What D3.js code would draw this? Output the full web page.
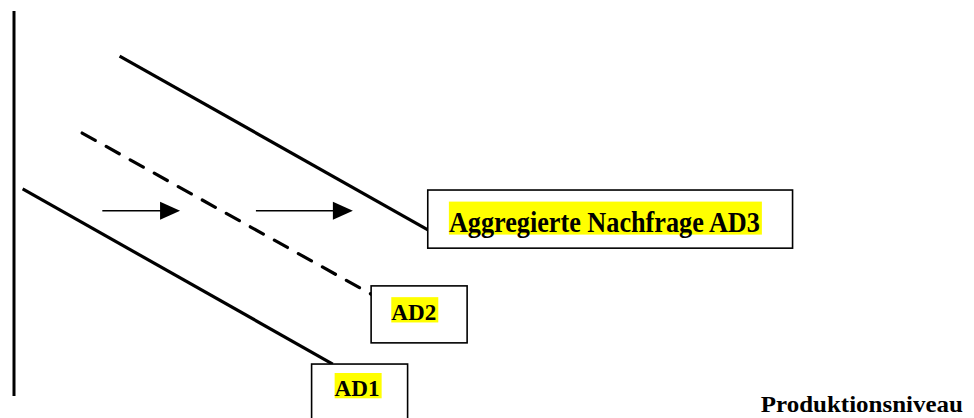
<!DOCTYPE html>
<html>
<head>
<meta charset="utf-8">
<script src="https://cdn.jsdelivr.net/npm/d3@7"></script>
<style>
  html, body { margin: 0; padding: 0; background: #fff; }
  svg { display: block; }
  text { font-family: "Liberation Serif", "Times New Roman", serif; font-weight: bold; }
</style>
</head>
<body>
<svg id="chart" width="974" height="418"></svg>
<script>
// Demand curves (data units: output 0..100, price level 0..100)
const curveNames = ["AD3", "AD2", "AD1"];
const curveX0 = [11.0, 7.1, 0.9];
const curveY0 = [88.3, 68.3, 53.8];
const curveX1 = [43.3, 39.4, 33.2];
const curveY1 = [42.9, 23.4, 8.3];
const curveDashed = [false, true, false];

// Shift arrows
const arrowY = [48.1, 48.1];
const arrowX0 = [9.2, 25.2];
const arrowX1 = [17.3, 35.3];

// Label boxes
const labelTexts = ["Aggregierte Nachfrage AD3", "AD2", "AD1"];
const boxX0 = [43.1, 37.2, 31.0];
const boxX1 = [81.1, 47.2, 41.0];
const boxYTop = [53.5, 28.6, 8.3];
const boxYBottom = [38.4, 13.8, -7.5];
const textX = [45.3, 39.3, 33.4];
const textY = [42.7, 19.7, 0.0];
const textW = [311, 45, 45];
const textSize = [30, 23, 23];

const axisLabel = "Produktionsniveau";
const axisLabelX = 77.8, axisLabelY = -4.1;

const svg = d3.select("#chart");
const x = d3.scaleLinear().domain([0, 100]).range([14, 974]);
const y = d3.scaleLinear().domain([0, 100]).range([396, 11]);

// vertical axis
svg.append("line")
  .attr("x1", x(0)).attr("x2", x(0))
  .attr("y1", y(100)).attr("y2", y(0))
  .attr("stroke", "#000").attr("stroke-width", 3);

// curves
curveNames.forEach((n, i) => {
  svg.append("line")
    .attr("x1", x(curveX0[i])).attr("y1", y(curveY0[i]))
    .attr("x2", x(curveX1[i])).attr("y2", y(curveY1[i]))
    .attr("stroke", "#000").attr("stroke-width", 3.2)
    .attr("stroke-linecap", curveDashed[i] ? "round" : "butt")
    .attr("stroke-dasharray", curveDashed[i] ? "15,12.5" : null);
});

// arrows
arrowY.forEach((v, i) => {
  const xs = x(arrowX0[i]), xe = x(arrowX1[i]), yy = y(v);
  const headLen = 20, headHalf = 9;
  svg.append("line")
    .attr("x1", xs).attr("x2", xe - headLen + 1)
    .attr("y1", yy).attr("y2", yy)
    .attr("stroke", "#000").attr("stroke-width", 1.6);
  svg.append("path")
    .attr("d", `M${xe},${yy}L${xe - headLen},${yy - headHalf}L${xe - headLen},${yy + headHalf}Z`)
    .attr("fill", "#000");
});

// label boxes
labelTexts.forEach((t, i) => {
  svg.append("rect")
    .attr("x", x(boxX0[i])).attr("y", y(boxYTop[i]))
    .attr("width", x(boxX1[i]) - x(boxX0[i]))
    .attr("height", y(boxYBottom[i]) - y(boxYTop[i]))
    .attr("fill", "#fff").attr("stroke", "#000").attr("stroke-width", 1.6);
  const fs = textSize[i];
  svg.append("rect")
    .attr("x", x(textX[i])).attr("y", y(textY[i]) - fs * 1.0)
    .attr("width", textW[i] + 2).attr("height", fs * 1.1)
    .attr("fill", "#ffff00");
  svg.append("text")
    .attr("x", x(textX[i])).attr("y", y(textY[i]))
    .attr("font-size", fs)
    .attr("textLength", textW[i]).attr("lengthAdjust", "spacingAndGlyphs")
    .attr("fill", "#000")
    .text(t);
});

svg.append("text")
  .attr("x", x(axisLabelX)).attr("y", y(axisLabelY))
  .attr("font-size", 24)
  .attr("textLength", 202).attr("lengthAdjust", "spacingAndGlyphs")
  .attr("fill", "#000")
  .text(axisLabel);
</script>
</body>
</html>
